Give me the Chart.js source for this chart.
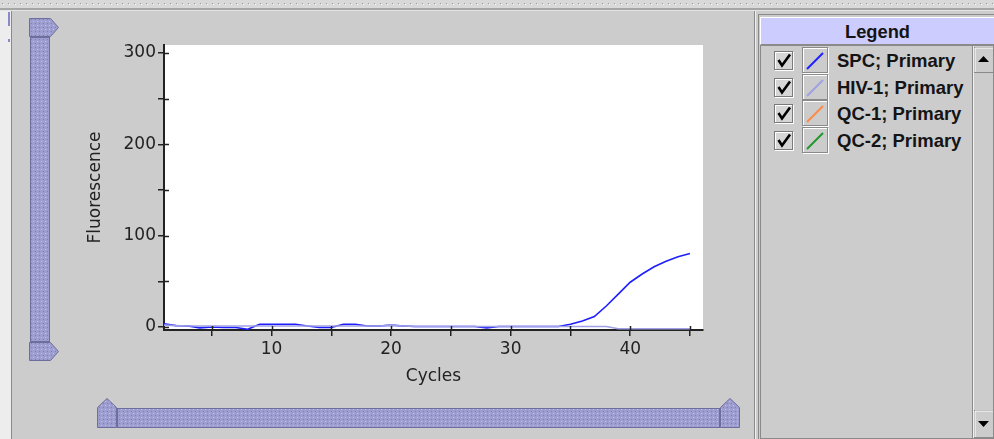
<!DOCTYPE html>
<html>
<head>
<meta charset="utf-8">
<script src="https://cdn.jsdelivr.net/npm/chart.js@4.4.1/dist/chart.umd.min.js"></script>
<style>
    body {
        margin: 0;
        width: 994px;
        height: 439px;
        background: #cccccc;
        position: relative;
        overflow: hidden;
        font-family: "Liberation Sans", Arial, sans-serif;
    }
    #chrome { position: absolute; left: 0; top: 0; }
    #plot { position: absolute; left: 60px; top: 30px; }
    #legendHead {
        position: absolute; left: 760px; top: 17px; width: 233px; height: 26px;
        background: #ccccff; border-top: 1px solid #ffffff; border-left: 1px solid #ffffff;
        border-bottom: 1px solid #8a8a8a;
        font-weight: bold; font-size: 18.3px; color: #141414;
        text-align: center; line-height: 27px;
    }
    .row { position: absolute; left: 760px; height: 27px; width: 212px; }
    .check {
        position: absolute; left: 14px; top: 4px; width: 17px; height: 17px;
        border: 1px solid #7a7a7a; box-shadow: inset 1px 1px 0 #ffffff, 1px 1px 0 #ffffff;
        background: #d6d6d6;
    }
    .icon {
        position: absolute; left: 42px; top: 0px; width: 24px; height: 24px;
        border: 1px solid #8a8a8a; box-shadow: inset 1px 1px 0 #ffffff, 1px 1px 0 #ffffff;
    }
    .name {
        position: absolute; left: 77px; top: 0px; line-height: 27px;
        font-weight: bold; font-size: 18.5px; color: #141414; white-space: nowrap;
    }
</style>
</head>
<body>
<svg id="chrome" width="994" height="439">
    <defs>
        <pattern id="dots" width="4" height="4" patternUnits="userSpaceOnUse">
            <rect width="4" height="4" fill="#9d9dcf"/>
            <rect x="1" y="1" width="1" height="1" fill="#c2c2ec"/>
            <rect x="3" y="3" width="1" height="1" fill="#8080b4"/>
        </pattern>
        <pattern id="strip" width="6" height="8" patternUnits="userSpaceOnUse">
            <rect width="6" height="8" fill="#d9d9d9"/>
            <rect x="2" y="3" width="1" height="1" fill="#9a9a9a"/>
            <rect x="3" y="4" width="1" height="1" fill="#f2f2f2"/>
        </pattern>
    </defs>
    <!-- top dotted strip -->
    <rect x="0" y="0" width="994" height="8" fill="url(#strip)"/>
    <rect x="0" y="8" width="994" height="2" fill="#a6a6a6"/>
    <rect x="0" y="10" width="994" height="1" fill="#e4e4e4"/>
    <!-- left edge -->
    <rect x="0" y="11" width="11" height="428" fill="#ededed"/>
    <rect x="8" y="12" width="2" height="14" fill="#8a8ac8"/>
    <rect x="8" y="39" width="2" height="3" fill="#8a8ac8"/>
    <rect x="11" y="11" width="1" height="428" fill="#8a8a8a"/>
    <!-- right panel separators -->
    <rect x="754" y="11" width="1" height="428" fill="#8a8a8a"/>
    <rect x="755" y="11" width="1" height="428" fill="#f0f0f0"/>
    <rect x="758" y="14" width="1" height="425" fill="#8a8a8a"/>
    <rect x="758" y="14" width="236" height="1" fill="#8a8a8a"/>
    <!-- list box -->
    <rect x="760.5" y="45.5" width="233" height="393" fill="none" stroke="#8a8a8a"/>
    <rect x="972" y="46" width="1" height="392" fill="#8a8a8a"/>
    <rect x="973" y="46" width="1" height="392" fill="#f0f0f0"/>
    <!-- scrollbar buttons -->
    <rect x="974.5" y="47.5" width="19" height="25" fill="#cccccc" stroke="#8a8a8a"/>
    <polyline points="975,72 975,48 993,48" fill="none" stroke="#ffffff"/>
    <polygon points="978,62 983.5,56 989,62" fill="#000000"/>
    <rect x="974.5" y="410.5" width="19" height="27" fill="#cccccc" stroke="#8a8a8a"/>
    <polyline points="975,437 975,411 993,411" fill="none" stroke="#ffffff"/>
    <polygon points="978,421 989,421 983.5,427" fill="#000000"/>
    <!-- vertical slider -->
    <rect x="30.5" y="37.5" width="19" height="304" fill="url(#dots)" stroke="#6e6e9c"/>
    <polygon points="29.5,18.5 50.5,18.5 58.5,27.5 50.5,36.5 29.5,36.5" fill="url(#dots)" stroke="#6e6e9c"/>
    <polygon points="29.5,342.5 50.5,342.5 58.5,351.5 50.5,360.5 29.5,360.5" fill="url(#dots)" stroke="#6e6e9c"/>
    <!-- horizontal slider -->
    <rect x="117.5" y="408.5" width="602" height="19" fill="url(#dots)" stroke="#6e6e9c"/>
    <polygon points="97.5,427.5 97.5,407.5 107,398.5 116.5,407.5 116.5,427.5" fill="url(#dots)" stroke="#6e6e9c"/>
    <polygon points="720.5,427.5 720.5,407.5 730,398.5 739.5,407.5 739.5,427.5" fill="url(#dots)" stroke="#6e6e9c"/>
</svg>

<canvas id="plot" width="650" height="370"></canvas>

<div id="legendHead">Legend</div>
<div id="legendRows"></div>

<script>
    // cycle numbers and fluorescence readings
    const cycles = [1, 2, 3, 4, 5, 6, 7, 8, 9, 10, 11, 12, 13, 14, 15, 16, 17, 18, 19, 20,
        21, 22, 23, 24, 25, 26, 27, 28, 29, 30, 31, 32, 33, 34, 35, 36, 37, 38, 39, 40,
        41, 42, 43, 44, 45];
    const spcValues = [3.5, 1.5, 1, -1, 0, -0.5, -0.5, -2.5, 3, 3,
        3, 3, 1, -0.5, -0.5, 3, 3, 1, 1, 2,
        1, 0.5, 0.5, 0.5, 0.5, 0.5, 0.5, -1, 0.5, 0.5,
        0.5, 0.5, 0.5, 0.5, 3, 6.5, 11.5, 23, 36, 49,
        58, 66, 72, 77, 80.5];
    const hiv1Values = [2, 1.5, 1, 1, 1, 1, 1, 1, 1, 1,
        1, 1, 1, 1, 1, 1, 1, 1, 1, 2,
        1, 0.5, 0.5, 0.5, 0.5, 0.5, 0.5, 0.5, 0.5, 0.5,
        0.5, 0.5, 0.5, 0.5, 0.5, 0.5, 0.5, 0.5, -2, -2,
        -2, -2, -2, -2, -2];
    // QC-1 / QC-2 are listed in the legend but no trace shows in the plot
    const qc1Values = [];
    const qc2Values = [];

    const seriesNames = ['SPC; Primary', 'HIV-1; Primary', 'QC-1; Primary', 'QC-2; Primary'];
    const seriesColors = ['#1e1eff', '#a0a0e4', '#ff8a48', '#1f9a2a'];
    const seriesValues = [spcValues, hiv1Values, qc1Values, qc2Values];
    const drawOrder = [2, 1, 3, 4]; // HIV-1 trace sits on top of SPC near baseline

    const yTickValues = [0, 50, 100, 150, 200, 250, 300];
    const xTickValues = [5, 10, 15, 20, 25, 30, 35, 40, 45];

    const axisColor = '#222222';
    const tickFont = { family: "'DejaVu Sans', sans-serif", size: 17 };

    // white plot background
    const plotBg = {
        id: 'plotBg',
        beforeDraw(chart) {
            const { ctx, chartArea } = chart;
            ctx.save();
            ctx.fillStyle = '#ffffff';
            ctx.fillRect(chartArea.left, chartArea.top,
                chartArea.right - chartArea.left, chartArea.bottom - chartArea.top);
            ctx.restore();
        }
    };

    // tick marks cross the axis line, draw the inner half
    const innerTicks = {
        id: 'innerTicks',
        afterDatasetsDraw(chart) {
            const { ctx, chartArea, scales } = chart;
            ctx.save();
            ctx.strokeStyle = axisColor;
            ctx.lineWidth = 1.5;
            ctx.beginPath();
            scales.x.ticks.forEach(function (t) {
                const px = Math.round(scales.x.getPixelForValue(t.value)) + 0.5;
                ctx.moveTo(px, chartArea.bottom);
                ctx.lineTo(px, chartArea.bottom - 4);
            });
            scales.y.ticks.forEach(function (t) {
                const py = Math.round(scales.y.getPixelForValue(t.value)) + 0.5;
                ctx.moveTo(chartArea.left, py);
                ctx.lineTo(chartArea.left + 5, py);
            });
            ctx.stroke();
            ctx.restore();
        }
    };

    const datasets = seriesNames.map(function (name, i) {
        return {
            label: name,
            data: seriesValues[i].map(function (v, j) { return { x: cycles[j], y: v }; }),
            borderColor: seriesColors[i],
            backgroundColor: seriesColors[i],
            borderWidth: 1.6,
            pointRadius: 0,
            tension: 0,
            order: drawOrder[i]
        };
    });

    new Chart(document.getElementById('plot'), {
        type: 'line',
        data: { datasets: datasets },
        options: {
            responsive: false,
            animation: false,
            layout: { padding: { top: 15, right: 7, left: 0, bottom: 0 } },
            plugins: {
                legend: { display: false },
                tooltip: { enabled: false }
            },
            scales: {
                x: {
                    type: 'linear',
                    min: 1,
                    max: 46.09,
                    afterBuildTicks: function (scale) {
                        scale.ticks = xTickValues.map(function (v) { return { value: v }; });
                    },
                    afterFit: function (scale) {
                        scale.height = 70;
                        scale.paddingLeft = 0;
                        scale.paddingRight = 0;
                    },
                    ticks: {
                        autoSkip: false,
                        maxRotation: 0,
                        color: axisColor,
                        font: tickFont,
                        padding: 3,
                        callback: function (v) { return v % 10 === 0 ? v : ''; }
                    },
                    grid: {
                        drawOnChartArea: false,
                        drawTicks: true,
                        tickLength: 6,
                        color: axisColor,
                        lineWidth: 1.5
                    },
                    border: { display: true, color: axisColor, width: 2 },
                    title: {
                        display: true,
                        text: 'Cycles',
                        color: axisColor,
                        font: tickFont,
                        padding: { top: 0, bottom: 13 }
                    }
                },
                y: {
                    type: 'linear',
                    min: -3.3,
                    max: 308.7,
                    afterBuildTicks: function (scale) {
                        scale.ticks = yTickValues.map(function (v) { return { value: v }; });
                    },
                    afterFit: function (scale) {
                        scale.width = 104;
                        scale.paddingTop = 0;
                        scale.paddingBottom = 0;
                    },
                    ticks: {
                        autoSkip: false,
                        color: axisColor,
                        font: tickFont,
                        padding: 2,
                        callback: function (v) { return v % 100 === 0 ? v : ''; }
                    },
                    grid: {
                        drawOnChartArea: false,
                        drawTicks: true,
                        tickLength: 6,
                        color: axisColor,
                        lineWidth: 1.5
                    },
                    border: { display: true, color: axisColor, width: 2 },
                    title: {
                        display: true,
                        text: 'Fluorescence',
                        color: axisColor,
                        font: tickFont,
                        padding: { top: 25, bottom: 0 }
                    }
                }
            }
        },
        plugins: [plotBg, innerTicks]
    });

    // legend list beside the plot
    const rows = document.getElementById('legendRows');
    seriesNames.forEach(function (name, i) {
        const row = document.createElement('div');
        row.className = 'row';
        row.style.top = Math.round(47 + i * 26.67) + 'px';
        row.innerHTML =
            '<div class="check"><svg width="17" height="17"><polyline points="3.5,8 7,13.5 15,2.5" ' +
            'fill="none" stroke="#000" stroke-width="2.6"/></svg></div>' +
            '<div class="icon"><svg width="24" height="24"><line x1="4" y1="21" x2="20" y2="5" ' +
            'stroke="' + seriesColors[i] + '" stroke-width="2"/></svg></div>' +
            '<div class="name">' + name + '</div>';
        rows.appendChild(row);
    });
</script>
</body>
</html>
